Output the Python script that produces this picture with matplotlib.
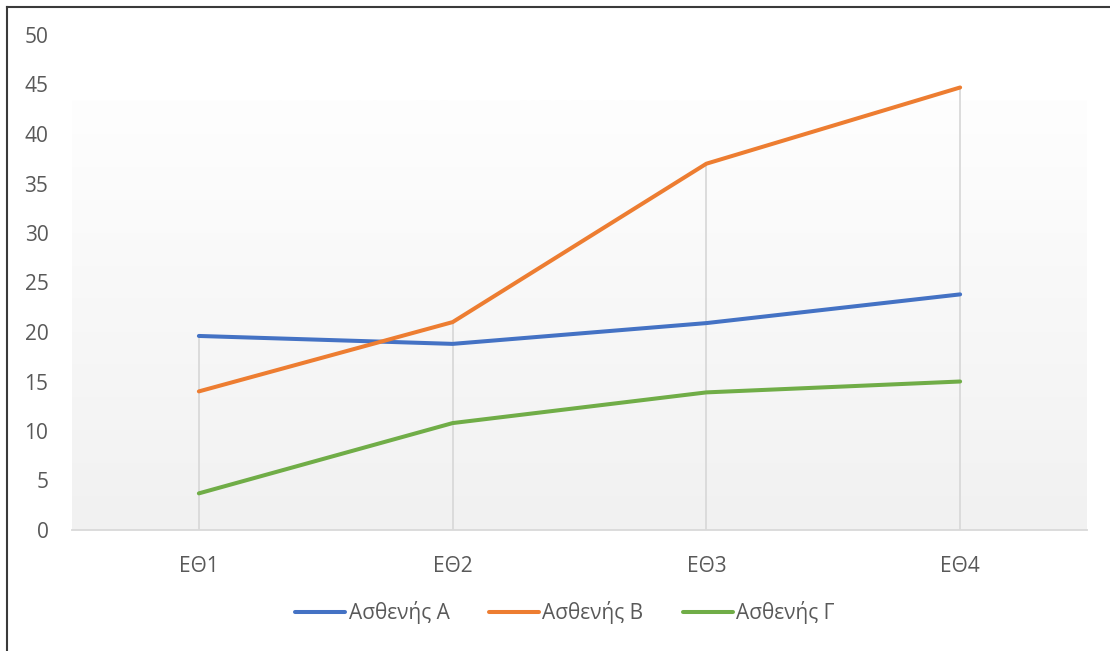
import matplotlib
matplotlib.use("Agg")
import matplotlib.pyplot as plt
import numpy as np
from matplotlib.colors import LinearSegmentedColormap
from matplotlib.lines import Line2D

categories = ["ΕΘ1", "ΕΘ2", "ΕΘ3", "ΕΘ4"]
series_names = ["Ασθενής Α", "Ασθενής Β", "Ασθενής Γ"]
patient_a = [19.6, 18.8, 20.9, 23.8]
patient_b = [14.0, 21.0, 37.0, 44.7]
patient_g = [3.7, 10.8, 13.9, 15.0]
colors = ["#4472C4", "#ED7D31", "#70AD47"]
yticks = [0, 5, 10, 15, 20, 25, 30, 35, 40, 45, 50]

plt.rcParams['font.family'] = ['Open Sans', 'DejaVu Sans']
text_color = "#595959"
fs = 15

fig = plt.figure(figsize=(11.10, 6.51), dpi=100)
ax = fig.add_axes([72/1110, 1-530/651, (1087-72)/1110, (530-35)/651])

x = np.arange(len(categories))
ax.set_xlim(-0.5, len(categories) - 0.5)
ax.set_ylim(0, 50)

# gradient background
cmap = LinearSegmentedColormap.from_list("g", ["#f1f1f1", "#fefefe"])
grad = np.linspace(0, 1, 256).reshape(-1, 1)
top_val = (530 - 100) / 9.9
ax.imshow(grad, aspect='auto', cmap=cmap, origin='lower',
          extent=(-0.5, len(categories) - 0.5, 0, top_val), zorder=0)

all_series = [patient_a, patient_b, patient_g]
maxima = np.max(np.array(all_series), axis=0)
ax.vlines(x, 0, maxima, color="#d9d9d9", lw=1.3, zorder=1)

for vals, c, name in zip(all_series, colors, series_names):
    ax.plot(x, vals, color=c, lw=2.9, solid_capstyle='round', solid_joinstyle='round', zorder=3, label=name)

for s in ["top", "right", "left"]:
    ax.spines[s].set_visible(False)
ax.spines["bottom"].set_color("#d9d9d9")
ax.spines["bottom"].set_linewidth(1.3)

ax.set_xticks(x)
ax.set_xticklabels(categories)
ax.set_yticks(yticks)
ax.tick_params(axis='both', length=0, labelsize=fs, colors=text_color)
ax.tick_params(axis='x', pad=19)
ax.tick_params(axis='y', pad=17)

handles = [Line2D([0], [0], color=c, lw=2.9, solid_capstyle='round') for c in colors]
leg = fig.legend(handles, series_names, loc='center', bbox_to_anchor=(565/1110, 1-613/651),
                 ncol=3, frameon=False, fontsize=fs, handlelength=2.4,
                 handletextpad=0.15, columnspacing=1.9)
for t in leg.get_texts():
    t.set_color(text_color)

# border (top and left)
fig.add_artist(Line2D([7/1110, 7/1110], [0, 1-7/651], transform=fig.transFigure, color="#3a3a3a", lw=1.5))
fig.add_artist(Line2D([7/1110, 1], [1-7/651, 1-7/651], transform=fig.transFigure, color="#3a3a3a", lw=1.5))

fig.savefig("out.png", dpi=100)
